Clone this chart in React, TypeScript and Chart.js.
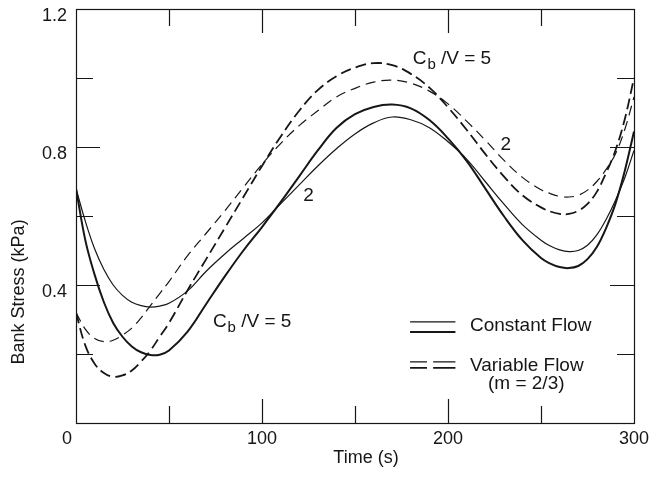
import React, { useEffect, useRef } from "react";
import { Chart, registerables } from "chart.js";

Chart.register(...registerables);

// ---- data ----
const timeS = [0, 5, 10, 15, 20, 25, 30, 35, 40, 45, 50, 60, 70, 80, 90, 100, 110, 120, 130, 140, 150, 160, 170, 180, 190, 200, 210, 220, 230, 240, 250, 255, 260, 265, 270, 275, 280, 285, 290, 295, 300];

// Constant flow, Cb/V = 5 (heavier solid)
const constFlow5 = [0.68, 0.53, 0.43, 0.35, 0.29, 0.25, 0.222, 0.205, 0.197, 0.198, 0.21, 0.265, 0.345, 0.425, 0.5, 0.568, 0.64, 0.715, 0.79, 0.855, 0.895, 0.916, 0.923, 0.912, 0.878, 0.825, 0.76, 0.68, 0.6, 0.53, 0.478, 0.462, 0.452, 0.449, 0.455, 0.475, 0.51, 0.565, 0.635, 0.73, 0.845];

// Constant flow, Cb/V = 2 (thin solid)
const constFlow2 = [0.68, 0.585, 0.505, 0.445, 0.4, 0.37, 0.35, 0.34, 0.336, 0.339, 0.347, 0.383, 0.44, 0.49, 0.535, 0.58, 0.635, 0.69, 0.745, 0.795, 0.838, 0.87, 0.887, 0.879, 0.856, 0.815, 0.765, 0.7, 0.635, 0.575, 0.53, 0.513, 0.502, 0.497, 0.5, 0.515, 0.545, 0.59, 0.645, 0.71, 0.79];

// Variable flow (m = 2/3), Cb/V = 5 (heavier dashed)
const varFlow5 = [0.32, 0.225, 0.172, 0.145, 0.134, 0.138, 0.152, 0.178, 0.21, 0.25, 0.29, 0.385, 0.475, 0.565, 0.655, 0.745, 0.83, 0.905, 0.965, 1.005, 1.03, 1.043, 1.037, 1.012, 0.972, 0.915, 0.85, 0.78, 0.715, 0.66, 0.625, 0.613, 0.606, 0.606, 0.615, 0.635, 0.67, 0.725, 0.79, 0.88, 1.0];

// Variable flow (m = 2/3), Cb/V = 2 (thin dashed)
const varFlow2 = [0.32, 0.272, 0.245, 0.236, 0.24, 0.255, 0.275, 0.305, 0.34, 0.375, 0.41, 0.485, 0.55, 0.615, 0.683, 0.75, 0.81, 0.862, 0.905, 0.945, 0.97, 0.988, 0.994, 0.985, 0.962, 0.925, 0.875, 0.82, 0.762, 0.712, 0.676, 0.665, 0.657, 0.655, 0.66, 0.675, 0.7, 0.735, 0.78, 0.85, 0.945];

const xInnerTicks = [50, 100, 150, 200, 250];
const xMajorTicks = [100, 200];
const yInnerTicks = [0.2, 0.4, 0.6, 0.8, 1.0];
const yMajorTicks = [0.4, 0.8];

const xAxisTitle = "Time (s)";
const yAxisTitle = "Bank Stress (kPa)";
const legendSolid = "Constant Flow";
const legendDashed = "Variable Flow";
const legendDashedSub = "(m = 2/3)";

const FONT = '"Liberation Sans", Arial, Helvetica, sans-serif';
const INK = "#161616";

const toPoints = (vals: number[]) => timeS.map((t, i) => ({ x: t, y: vals[i] }));

const decorPlugin = {
  id: "decor",
  afterDatasetsDraw(chart: any) {
    const { ctx, chartArea: a, scales } = chart;
    const x = scales.x;
    const y = scales.y;
    ctx.save();
    ctx.strokeStyle = INK;
    ctx.fillStyle = INK;

    // frame
    ctx.lineWidth = 1.2;
    ctx.strokeRect(Math.round(a.left) + 0.5, Math.round(a.top) + 0.5, Math.round(a.right - a.left), Math.round(a.bottom - a.top));

    // inward ticks on all four sides
    ctx.lineWidth = 1.2;
    xInnerTicks.forEach((v) => {
      const px = Math.round(x.getPixelForValue(v)) + 0.5;
      const len = xMajorTicks.includes(v) ? 24 : 17;
      ctx.beginPath();
      ctx.moveTo(px, a.bottom);
      ctx.lineTo(px, a.bottom - len);
      ctx.moveTo(px, a.top);
      ctx.lineTo(px, a.top + len);
      ctx.stroke();
    });
    yInnerTicks.forEach((v) => {
      const py = Math.round(y.getPixelForValue(v)) + 0.5;
      const len = yMajorTicks.includes(v) ? 24 : 17;
      ctx.beginPath();
      ctx.moveTo(a.left, py);
      ctx.lineTo(a.left + len, py);
      ctx.moveTo(a.right, py);
      ctx.lineTo(a.right - len, py);
      ctx.stroke();
    });

    // shared origin label
    ctx.font = `18px ${FONT}`;
    ctx.textAlign = "center";
    ctx.textBaseline = "top";
    ctx.fillText("0", x.getPixelForValue(0) - 9, a.bottom + 7);

    // axis titles
    ctx.textBaseline = "middle";
    ctx.fillText(xAxisTitle, (a.left + a.right) / 2 + 11, 458);
    ctx.save();
    ctx.translate(19, y.getPixelForValue(0.38));
    ctx.rotate(-Math.PI / 2);
    ctx.fillText(yAxisTitle, 0, 0);
    ctx.restore();

    // curve labels
    const cbLabel = (tx: number, ty: number) => {
      let px = x.getPixelForValue(tx);
      const py = y.getPixelForValue(ty);
      ctx.textAlign = "left";
      ctx.textBaseline = "middle";
      ctx.font = `19px ${FONT}`;
      ctx.fillText("C", px, py);
      px += ctx.measureText("C").width + 1;
      ctx.font = `15px ${FONT}`;
      ctx.fillText("b", px, py + 6);
      px += ctx.measureText("b").width;
      ctx.font = `19px ${FONT}`;
      ctx.fillText(" /V = 5", px, py);
    };
    cbLabel(181, 1.055);
    cbLabel(73.6, 0.293);
    ctx.font = `19px ${FONT}`;
    ctx.textAlign = "center";
    ctx.textBaseline = "middle";
    ctx.fillText("2", x.getPixelForValue(231), y.getPixelForValue(0.806));
    ctx.fillText("2", x.getPixelForValue(125), y.getPixelForValue(0.658));

    // legend
    const lx0 = x.getPixelForValue(179.6);
    const lx1 = x.getPixelForValue(204);
    ctx.lineWidth = 1.2;
    ctx.beginPath();
    ctx.moveTo(lx0, y.getPixelForValue(0.293));
    ctx.lineTo(lx1, y.getPixelForValue(0.293));
    ctx.stroke();
    ctx.lineWidth = 2;
    ctx.beginPath();
    ctx.moveTo(lx0, y.getPixelForValue(0.264));
    ctx.lineTo(lx1, y.getPixelForValue(0.264));
    ctx.stroke();
    const lxm0 = x.getPixelForValue(188.7);
    const lxm1 = x.getPixelForValue(192);
    [[0.177, 1.2], [0.16, 1.8]].forEach(([v, w]) => {
      ctx.lineWidth = w;
      const py = y.getPixelForValue(v);
      ctx.beginPath();
      ctx.moveTo(lx0, py);
      ctx.lineTo(lxm0, py);
      ctx.moveTo(lxm1, py);
      ctx.lineTo(lx1, py);
      ctx.stroke();
    });
    ctx.font = `19px ${FONT}`;
    ctx.textAlign = "left";
    ctx.textBaseline = "middle";
    ctx.fillText(legendSolid, x.getPixelForValue(211.8), y.getPixelForValue(0.281));
    ctx.fillText(legendDashed, x.getPixelForValue(211.8), y.getPixelForValue(0.165));
    ctx.fillText(legendDashedSub, x.getPixelForValue(221.5), y.getPixelForValue(0.113));

    ctx.restore();
  },
};

export default function App() {
  const canvasRef = useRef<HTMLCanvasElement | null>(null);

  useEffect(() => {
    if (!canvasRef.current) return;
    const common = { borderColor: INK, pointRadius: 0, fill: false, tension: 0.4 };
    const chart = new Chart(canvasRef.current, {
      type: "line",
      data: {
        datasets: [
          { label: "Constant Flow, Cb/V = 5", data: toPoints(constFlow5), borderWidth: 2, ...common },
          { label: "Constant Flow, Cb/V = 2", data: toPoints(constFlow2), borderWidth: 1.2, ...common },
          { label: "Variable Flow, Cb/V = 5", data: toPoints(varFlow5), borderWidth: 1.8, borderDash: [11, 5], ...common },
          { label: "Variable Flow, Cb/V = 2", data: toPoints(varFlow2), borderWidth: 1.2, borderDash: [10, 6], ...common },
        ],
      },
      options: {
        animation: false,
        responsive: false,
        layout: { padding: { left: 0, top: 9, right: 19, bottom: 0 } },
        plugins: { legend: { display: false }, tooltip: { enabled: false } },
        scales: {
          x: {
            type: "linear",
            min: 0,
            max: 300,
            grid: { display: false, drawTicks: false },
            border: { display: false },
            ticks: {
              stepSize: 100,
              padding: 7,
              color: INK,
              maxRotation: 0,
              autoSkip: false,
              font: { family: FONT, size: 18, lineHeight: 1 },
              callback: (v: any) => (Number(v) === 0 ? "" : String(v)),
            },
            afterFit: (s: any) => {
              s.height = 55;
              s.paddingLeft = 0;
              s.paddingRight = 0;
            },
          },
          y: {
            type: "linear",
            min: 0,
            max: 1.2,
            grid: { display: false, drawTicks: false },
            border: { display: false },
            ticks: {
              stepSize: 0.4,
              padding: 9,
              labelOffset: 7,
              color: INK,
              font: { family: FONT, size: 18, lineHeight: 1 },
              callback: (v: any) => (Math.abs(Number(v)) < 1e-9 ? "" : Number(v).toFixed(1)),
            },
            afterFit: (s: any) => {
              s.width = 76;
              s.paddingTop = 0;
              s.paddingBottom = 0;
            },
          },
        },
      },
      plugins: [decorPlugin],
    });
    return () => chart.destroy();
  }, []);

  return (
    <div style={{ position: "fixed", left: 0, top: 0, width: 653, height: 478, background: "#fff" }}>
      <canvas ref={canvasRef} width={653} height={478} style={{ display: "block" }} />
    </div>
  );
}
